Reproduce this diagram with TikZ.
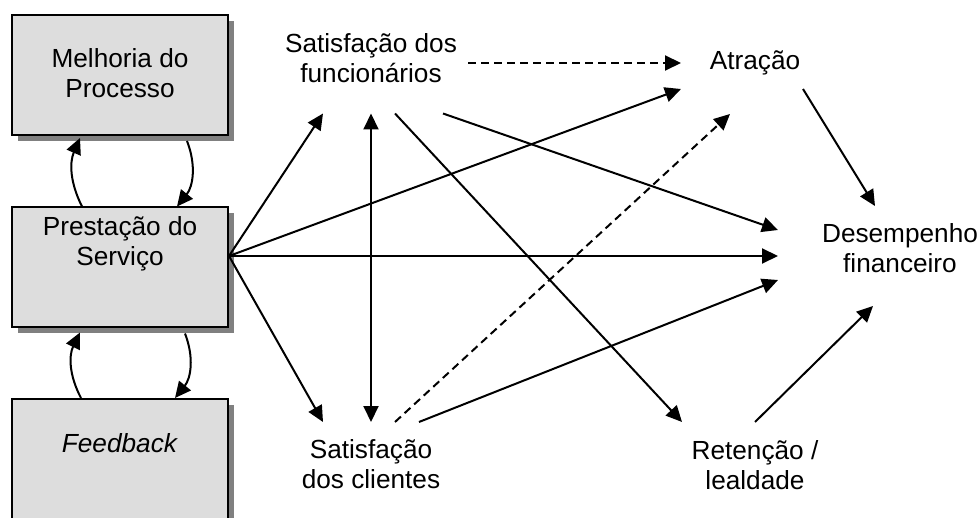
\documentclass[tikz,border=0pt]{standalone}
\usepackage{fontspec}
\setmainfont{Liberation Sans}
\usetikzlibrary{arrows.meta,shadows}
\definecolor{boxgray}{HTML}{DDDDDD}
\definecolor{shadowgray}{HTML}{808080}

\begin{document}
\begin{tikzpicture}[x=0.5pt, y=-0.5pt, line width=1pt,
	>={Triangle[length=8pt,width=7.5pt]},
	txt/.style={align=center, inner sep=0pt, font=\fontsize{13.1pt}{15pt}\selectfont},
	box/.style={draw, fill=boxgray, minimum width=108pt, minimum height=60pt,
		drop shadow={shadow xshift=3pt, shadow yshift=-3pt, fill=shadowgray, opacity=1}},
	dashline/.style={dash pattern=on 4pt off 2.5pt}]
	\useasboundingbox (0,0) rectangle (980,518);

	% Boxes on the left
	\node[box, label={[txt, yshift=1pt]center:Melhoria do\\Processo}] (melhoria) at (120,75) {};
	\node[box, label={[txt, yshift=11.75pt]center:Prestação do\\Serviço}] (servico) at (120,267.5) {};
	\node[box, label={[txt, yshift=8pt]center:\textit{Feedback}}] (feedback) at (120,459) {};

	% Outcomes
	\node[txt, minimum width=96pt, minimum height=54.5pt] (funcionarios) at (371,58) {Satisfação dos\\funcionários};
	\node[txt, minimum height=41pt] (clientes) at (371,464) {Satisfação\\dos clientes};
	\node[txt, minimum width=73pt, minimum height=25pt] (atracao) at (755,63) {Atração};
	\node[txt, minimum width=72pt, minimum height=42pt] (retencao) at (755,465) {Retenção /\\lealdade};
	\node[txt, minimum width=121pt, minimum height=41pt] (desempenho) at (900,248) {Desempenho\\financeiro};

	% Loops between the boxes
	\draw[->] ([xshift=-19pt]servico.north) to[bend left=25] ([xshift=-20pt,yshift=-1pt]melhoria.south);
	\draw[->] ([xshift=33.5pt,yshift=-2.5pt]melhoria.south) to[bend left=30] ([xshift=28.5pt]servico.north);
	\draw[->] ([xshift=-19.5pt]feedback.north) to[bend left=27] ([xshift=-20pt,yshift=-2pt]servico.south);
	\draw[->] ([xshift=32.5pt,yshift=-2.5pt]servico.south) to[bend left=30] ([xshift=27.5pt]feedback.north);

	% Arrows out of the service box
	\coordinate (servout) at ([yshift=5.75pt]servico.east);
	\draw[->] (servout) -- ([xshift=-24pt]funcionarios.south);
	\draw[->] (servout) -- (atracao.south west);
	\draw[->] (servout) -- (servout -| desempenho.west);
	\draw[->] (servout) -- ([xshift=-24pt]clientes.north);

	% Between the outcomes
	\draw[<->] (clientes.north) -- (funcionarios.south);
	\draw[->, dashline] (atracao.west -| funcionarios.east) -- (atracao.west);
	\draw[->] ([xshift=12pt]funcionarios.south) -- (retencao.north west);
	\draw[->] ([xshift=36pt]funcionarios.south) -- ([yshift=9pt]desempenho.west);
	\draw[->, dashline] ([xshift=12pt]clientes.north) -- ([xshift=-12.5pt,yshift=-12.5pt]atracao.south);
	\draw[->] ([xshift=24pt]clientes.north) -- ([yshift=-16pt]desempenho.west);
	\draw[->] ([xshift=24pt]atracao.south) -- ([xshift=-12.5pt]desempenho.north);
	\draw[->] (retencao.north) -- ([xshift=-13.5pt,yshift=-8pt]desempenho.south);
\end{tikzpicture}
\end{document}
